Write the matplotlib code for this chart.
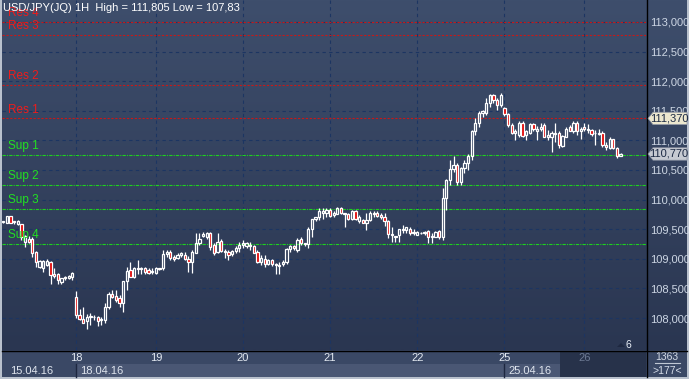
import numpy as np
import matplotlib.pyplot as plt
from matplotlib.colors import LinearSegmentedColormap
from matplotlib.patches import Rectangle, Polygon
from matplotlib.lines import Line2D
from matplotlib.transforms import blended_transform_factory

plt.rcParams['font.family'] = ['Liberation Sans', 'DejaVu Sans']

# hourly USD/JPY candles, 15.04.16 - 26.04.16
opens = [109.62, 109.61, 109.72, 109.63, 109.58, 109.58, 109.29, 109.34, 109.34, 109.12,
         108.86, 108.84, 108.89, 108.95, 108.74, 108.74, 108.61, 108.67, 108.68, 108.70,
         108.36, 108.05, 107.99, 107.95, 108.02, 108.02, 108.02, 107.96, 107.97, 108.19,
         108.40, 108.37, 108.34, 108.25, 108.62, 108.81, 108.70, 108.84, 108.82, 108.84,
         108.81, 108.78, 108.76, 108.84, 108.84, 109.08, 109.11, 109.03, 109.02, 109.06,
         109.07, 109.00, 108.95, 109.10, 109.27, 109.38, 109.36, 109.44, 109.23, 109.12,
         109.30, 109.12, 109.12, 109.08, 109.14, 109.18, 109.23, 109.22, 109.24, 109.21,
         109.12, 108.95, 108.99, 108.92, 108.98, 108.92, 108.90, 108.91, 108.95, 109.16,
         109.21, 109.15, 109.33, 109.26, 109.25, 109.50, 109.67, 109.70, 109.77, 109.77,
         109.82, 109.74, 109.76, 109.85, 109.77, 109.76, 109.68, 109.81, 109.64, 109.66,
         109.61, 109.66, 109.78, 109.77, 109.74, 109.71, 109.63, 109.42, 109.39, 109.40,
         109.49, 109.49, 109.51, 109.46, 109.41, 109.44, 109.43, 109.47, 109.37, 109.37,
         109.47, 109.37, 110.02, 110.33, 110.51, 110.58, 110.30, 110.53, 110.62, 110.74,
         111.15, 111.29, 111.46, 111.46, 111.63, 111.77, 111.68, 111.60, 111.55, 111.44,
         111.26, 111.13, 111.09, 111.29, 111.09, 111.13, 111.27, 111.15, 111.19, 111.26,
         111.06, 111.06, 111.11, 111.12, 110.91, 111.06, 111.22, 111.16, 111.30, 111.16,
         111.23, 111.18, 111.18, 111.12, 111.11, 111.12, 110.93, 110.87, 111.02, 110.87,
         110.74]
highs = [109.64, 109.73, 109.73, 109.64, 109.65, 109.59, 109.40, 109.38, 109.36, 109.13,
         108.98, 108.98, 108.99, 108.97, 108.84, 108.76, 108.68, 108.71, 108.73, 108.78,
         108.46, 108.16, 108.18, 108.06, 108.08, 108.05, 108.03, 108.02, 108.26, 108.44,
         108.48, 108.47, 108.39, 108.62, 108.86, 108.95, 108.86, 108.98, 108.86, 108.86,
         108.84, 108.84, 108.86, 108.85, 109.15, 109.15, 109.15, 109.06, 109.10, 109.12,
         109.12, 109.04, 109.15, 109.43, 109.43, 109.45, 109.46, 109.46, 109.27, 109.43,
         109.33, 109.17, 109.15, 109.15, 109.22, 109.29, 109.32, 109.29, 109.29, 109.23,
         109.15, 109.06, 109.06, 108.99, 108.99, 108.93, 108.95, 108.98, 109.18, 109.23,
         109.23, 109.35, 109.37, 109.27, 109.54, 109.68, 109.71, 109.85, 109.85, 109.85,
         109.85, 109.80, 109.87, 109.87, 109.77, 109.78, 109.82, 109.82, 109.74, 109.68,
         109.77, 109.80, 109.80, 109.80, 109.77, 109.77, 109.66, 109.54, 109.39, 109.51,
         109.57, 109.54, 109.54, 109.50, 109.47, 109.45, 109.47, 109.49, 109.43, 109.47,
         109.49, 110.19, 110.34, 110.67, 110.73, 110.61, 110.55, 110.67, 110.77, 111.18,
         111.37, 111.49, 111.52, 111.71, 111.78, 111.78, 111.71, 111.805, 111.57, 111.46,
         111.29, 111.20, 111.32, 111.32, 111.18, 111.30, 111.30, 111.24, 111.30, 111.29,
         111.18, 111.15, 111.29, 111.15, 111.09, 111.23, 111.26, 111.32, 111.32, 111.23,
         111.29, 111.28, 111.20, 111.18, 111.20, 111.15, 110.98, 111.05, 111.03, 110.89,
         110.79]
lows = [109.61, 109.60, 109.60, 109.59, 109.57, 109.31, 109.20, 109.27, 109.03, 108.86,
        108.84, 108.78, 108.87, 108.58, 108.67, 108.58, 108.58, 108.65, 108.66, 108.64,
        108.00, 107.96, 107.91, 107.82, 107.88, 107.96, 107.87, 107.88, 107.92, 108.16,
        108.34, 108.27, 108.19, 108.10, 108.48, 108.69, 108.68, 108.75, 108.75, 108.75,
        108.74, 108.74, 108.75, 108.81, 108.81, 109.03, 108.98, 108.97, 108.99, 109.03,
        108.98, 108.78, 108.76, 109.09, 109.23, 109.36, 109.34, 109.15, 109.06, 109.09,
        109.12, 109.02, 108.98, 109.05, 109.09, 109.12, 109.18, 109.18, 109.15, 109.09,
        108.93, 108.90, 108.86, 108.90, 108.87, 108.75, 108.75, 108.88, 108.92, 109.12,
        109.15, 109.12, 109.23, 109.21, 109.18, 109.37, 109.63, 109.66, 109.68, 109.71,
        109.71, 109.71, 109.75, 109.76, 109.54, 109.66, 109.66, 109.66, 109.60, 109.60,
        109.49, 109.63, 109.71, 109.70, 109.68, 109.55, 109.35, 109.29, 109.29, 109.29,
        109.43, 109.44, 109.40, 109.40, 109.40, 109.42, 109.40, 109.26, 109.26, 109.36,
        109.33, 109.31, 109.82, 110.25, 110.47, 110.25, 110.25, 110.45, 110.50, 110.67,
        111.09, 111.22, 111.40, 111.43, 111.57, 111.63, 111.51, 111.57, 111.41, 111.23,
        111.11, 111.01, 111.06, 111.05, 111.01, 111.11, 111.15, 111.00, 111.15, 111.05,
        111.01, 110.81, 110.98, 110.87, 110.89, 111.05, 111.15, 111.13, 111.09, 111.03,
        111.16, 111.13, 111.07, 110.92, 111.09, 110.89, 110.84, 110.85, 110.85, 110.71,
        110.73]
closes = [109.63, 109.72, 109.61, 109.62, 109.64, 109.37, 109.38, 109.29, 109.09, 108.95,
          108.96, 108.96, 108.96, 108.72, 108.71, 108.64, 108.67, 108.70, 108.71, 108.76,
          108.05, 107.99, 107.92, 108.02, 108.03, 108.01, 107.95, 107.99, 108.19, 108.40,
          108.35, 108.31, 108.25, 108.62, 108.80, 108.70, 108.84, 108.83, 108.84, 108.78,
          108.76, 108.80, 108.84, 108.82, 109.08, 109.11, 109.02, 108.99, 109.07, 109.09,
          109.00, 108.95, 109.12, 109.27, 109.34, 109.42, 109.44, 109.20, 109.10, 109.29,
          109.14, 109.14, 109.06, 109.13, 109.19, 109.23, 109.26, 109.26, 109.21, 109.10,
          108.95, 109.01, 108.91, 108.98, 108.91, 108.90, 108.88, 108.95, 109.16, 109.21,
          109.19, 109.32, 109.26, 109.25, 109.51, 109.67, 109.70, 109.80, 109.81, 109.82,
          109.72, 109.77, 109.85, 109.77, 109.76, 109.68, 109.81, 109.68, 109.70, 109.61,
          109.66, 109.78, 109.76, 109.72, 109.71, 109.63, 109.42, 109.40, 109.37, 109.50,
          109.51, 109.53, 109.44, 109.44, 109.46, 109.43, 109.46, 109.36, 109.39, 109.46,
          109.36, 110.02, 110.33, 110.51, 110.58, 110.30, 110.53, 110.62, 110.74, 111.15,
          111.29, 111.47, 111.49, 111.63, 111.77, 111.68, 111.60, 111.77, 111.44, 111.26,
          111.13, 111.15, 111.29, 111.07, 111.15, 111.27, 111.19, 111.20, 111.23, 111.06,
          111.09, 111.12, 111.12, 110.92, 111.07, 111.20, 111.16, 111.29, 111.15, 111.19,
          111.19, 111.20, 111.11, 111.13, 111.13, 110.92, 110.89, 111.02, 110.87, 110.74,
          110.77]

day_pos = [20, 42, 66, 90, 114, 138, 160]
day_labels = ['18', '19', '20', '21', '22', '25', '26']
week_labels = ['15.04.16', '18.04.16', '25.04.16']
price_ticks = [108.0, 108.5, 109.0, 109.5, 110.0, 110.5, 111.0, 111.5, 112.0, 112.5, 113.0]
res_levels = [113.0, 112.78, 111.94, 111.37]
res_names = ['Res 4', 'Res 3', 'Res 2', 'Res 1']
sup_levels = [110.75, 110.25, 109.84, 109.25]
sup_names = ['Sup 1', 'Sup 2', 'Sup 3', 'Sup 4']
marked = [(111.37, '111,370', '#ece7cf'), (110.77, '110,770', '#c6cad2')]
title = 'USD/JPY(JQ) 1H  High = 111,805 Low = 107,83'

W, H = 689, 379
fig = plt.figure(figsize=(W / 100, H / 100), dpi=100)
fig.patch.set_facecolor('#b9c1cd')


def box(x0, y0, x1, y1):
    return [x0 / W, 1 - y1 / H, (x1 - x0) / W, (y1 - y0) / H]


def fx(x):
    return x / W


def fy(y):
    return 1 - y / H


grad = np.linspace(0, 1, 256).reshape(-1, 1)
cmap = LinearSegmentedColormap.from_list('bg', ['#3e4e6c', '#2a3651'])

# right price panel
axr = fig.add_axes(box(646, 0, 687, 350), zorder=1)
axr.imshow(grad, cmap=cmap, extent=(0, 1, 0, 1), aspect='auto')
axr.set_axis_off()

# main chart
ax = fig.add_axes(box(2, 0, 646, 350), zorder=3)
ax.imshow(grad, cmap=cmap, extent=(0, 1, 0, 1), transform=ax.transAxes,
          aspect='auto', zorder=0)

o = np.array(opens)
h = np.array(highs)
l = np.array(lows)
c = np.array(closes)
x = np.arange(len(o))
top = np.maximum(o, c)
bot = np.minimum(o, c)
up = c >= o

ax.vlines(x, top, h, color='white', lw=0.9, zorder=4)
ax.vlines(x, l, bot, color='white', lw=0.9, zorder=4)
ax.bar(x, np.maximum(top - bot, 0.006), bottom=bot, width=0.62,
       color=['none' if u else '#e00000' for u in up],
       edgecolor='white', linewidth=0.9, zorder=5)

for lev, name in zip(res_levels, res_names):
    ax.axhline(lev, color='#c81818', ls=(0, (2, 1.5)), lw=0.8, zorder=3)
    ax.annotate(name, (0.01, lev), xycoords=('axes fraction', 'data'),
                xytext=(0, 2), textcoords='offset points', color='#ee1c1c',
                fontsize=8.5, va='bottom', zorder=6)
for lev, name in zip(sup_levels, sup_names):
    ax.axhline(lev, color='#1ed21e', ls=(0, (3, 1, 1, 1)), lw=0.8, zorder=3)
    ax.annotate(name, (0.01, lev), xycoords=('axes fraction', 'data'),
                xytext=(0, 2), textcoords='offset points', color='#22e022',
                fontsize=8.5, va='bottom', zorder=6)

ax.set_xlim(-0.36, 177)
ax.set_ylim(107.46, 113.37)
ax.set_yticks(price_ticks)
ax.set_yticklabels([f'{v:.3f}'.replace('.', ',') for v in price_ticks])
ax.yaxis.tick_right()
ax.set_xticks(day_pos)
ax.set_xticklabels(day_labels)
ax.grid(True, color='#1c3562', ls=(0, (3, 3)), lw=0.8)
ax.set_axisbelow(True)
ax.tick_params(axis='y', length=0, pad=3, colors='#cdd6e4', labelsize=8)
ax.tick_params(axis='x', length=0, pad=2, colors='#e2e8f0', labelsize=8)
ax.get_xticklabels()[-1].set_color('#6c7993')
for s in ax.spines.values():
    s.set_visible(False)

# bottom date panel
for rect, col in [((2, 350, 687, 377), '#3a4865'),
                  ((76, 364, 560, 377), '#4a5774'),
                  ((560, 351, 646, 377), '#27324a')]:
    x0, y0, w, hh = box(*rect)
    fig.add_artist(Rectangle((x0, y0), w, hh, transform=fig.transFigure,
                             facecolor=col, edgecolor='none', zorder=0.5))
for xs in [76, 504]:
    fig.add_artist(Line2D([fx(xs), fx(xs)], [fy(364), fy(377)], color='#1d2740',
                          lw=1, zorder=0.6))
for lab, xs in zip(week_labels, [10, 80, 508]):
    fig.text(fx(xs), fy(371), lab, color='#dfe5ee', fontsize=8, va='center', zorder=5)

fig.text(fx(667), fy(357), '1363', color='#d5dce8', fontsize=7.5, ha='center', va='center')
fig.add_artist(Line2D([fx(655), fx(680)], [fy(363), fy(363)], color='#c0c8d4', lw=0.8))
fig.text(fx(667), fy(371), '>177<', color='#d5dce8', fontsize=7.5, ha='center', va='center')

# frame lines
fig.add_artist(Line2D([fx(2), fx(687)], [fy(350.5), fy(350.5)], color='black', lw=1, zorder=6))
fig.add_artist(Line2D([fx(646.5), fx(646.5)], [fy(0), fy(377)], color='black', lw=1, zorder=6))

# current / marked price boxes
tr = blended_transform_factory(fig.transFigure, ax.transData)
for lev, lab, col in marked:
    d = 0.105
    pts = [(fx(648), lev), (fx(653), lev + d), (fx(687), lev + d),
           (fx(687), lev - d), (fx(653), lev - d)]
    fig.add_artist(Polygon(pts, closed=True, transform=tr, facecolor=col,
                           edgecolor='#8890a0', lw=0.5, zorder=7))
    fig.add_artist(plt.Text(fx(669), lev, lab, transform=tr, color='#1c2a44',
                            fontsize=8, ha='center', va='center', zorder=8))

# bars-shift marker
fig.add_artist(Polygon([(fx(617), fy(347)), (fx(621), fy(343)), (fx(625), fy(347))],
                       closed=True, transform=fig.transFigure, facecolor='#1e2840',
                       edgecolor='none', zorder=6))
fig.text(fx(626), fy(345), '6', color='#e8eef6', fontsize=7.5, va='center', zorder=6)

fig.text(fx(3), fy(8), title, color='white', fontsize=8, va='center', zorder=8)

fig.savefig('out.png', dpi=100, facecolor=fig.get_facecolor())
